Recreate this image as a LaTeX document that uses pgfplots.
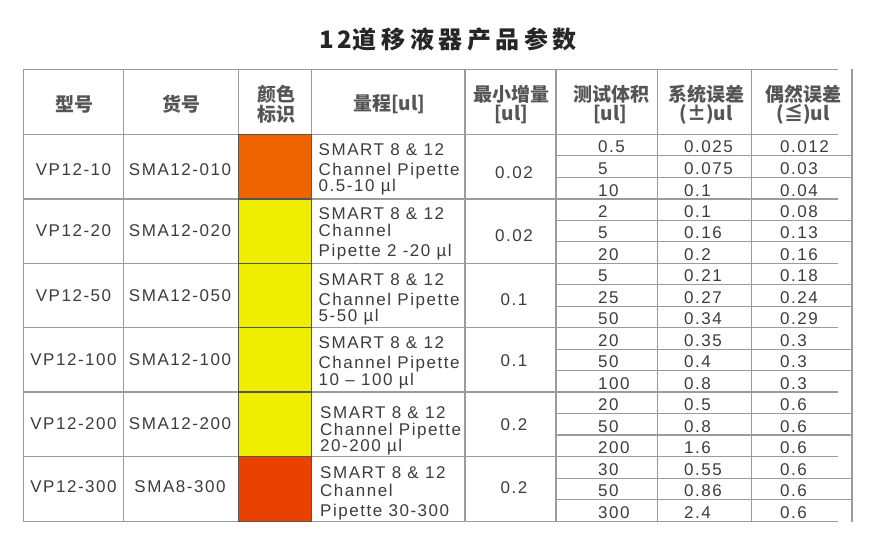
\documentclass[border=0pt]{standalone}
\usepackage{pgfplots}
\pgfplotsset{compat=1.18}
\usepackage{pgfplotstable}
\usepackage{fontspec}
\newfontfamily\bodyfont{Liberation Sans}[LetterSpace=9]
\newfontfamily\cjk{Noto Sans CJK SC}
\newfontfamily\titlecjk{Noto Sans CJK SC}[LetterSpace=19]

\definecolor{gridc}{RGB}{155,155,155}
\definecolor{cellb}{RGB}{85,85,85}
\definecolor{txt}{RGB}{60,60,60}
\definecolor{hdr}{RGB}{85,85,85}
\definecolor{corange}{RGB}{238,98,0}
\definecolor{cyellow}{RGB}{238,237,0}
\definecolor{cred}{RGB}{234,64,0}

% header cells
\pgfplotstableread{
x y label
74 104.5 型号
181 104.5 货号
276 94 颜色
276 114.5 标识
389 104.5 {量程[ul]}
511 94 最小增量
511 114.5 {[ul]}
611 94 测试体积
610 114.5 {[ul]}
706.5 94 系统误差
706 114.5 {(±)ul}
803.5 94 偶然误差
803 114.5 {(≦)ul}
}\headtab

% centred body cells (model, article no., min increment)
\pgfplotstableread{
x y label
73.5 175 VP12-10
180 175 SMA12-010
514 178 0.02
73.5 236.7 VP12-20
180 236.7 SMA12-020
514 241.7 0.02
73.5 301.7 VP12-50
180 301.7 SMA12-050
514 305 0.1
73.5 365 VP12-100
180 365 SMA12-100
514 366.7 0.1
73.5 429.3 VP12-200
180 429.3 SMA12-200
514 430 0.2
73.5 492.7 VP12-300
180 492.7 SMA8-300
514 493.3 0.2
}\centab

% volume range text, left aligned
\pgfplotstableread{
x y label
318.5 155 {SMART 8 \& 12}
318.5 175 {Channel Pipette}
318.5 191.7 {0.5-10 µl}
318.5 219.3 {SMART 8 \& 12}
318.5 236.7 {Channel}
318.5 256.7 {Pipette 2 -20 µl}
318.5 285 {SMART 8 \& 12}
318.5 305 {Channel Pipette}
318.5 321.7 {5-50 µl}
318.5 348.3 {SMART 8 \& 12}
318.5 368 {Channel Pipette}
318.5 385 {10 – 100 µl}
320 418.3 {SMART 8 \& 12}
320 435 {Channel Pipette}
320 451.7 {20-200 µl}
320 478.3 {SMART 8 \& 12}
320 496.7 {Channel}
320 516.7 {Pipette 30-300}
}\rangetab

% test volume, systematic error, random error
\pgfplotstableread{
y vol sys rnd
152.8 0.5 0.025 0.012
174.4 5 0.075 0.03
196.0 10 0.1 0.04
217.4 2 0.1 0.08
238.8 5 0.16 0.13
260.3 20 0.2 0.16
281.7 5 0.21 0.18
303.2 25 0.27 0.24
324.7 50 0.34 0.29
346.1 20 0.35 0.3
367.6 50 0.4 0.3
389.0 100 0.8 0.3
410.5 20 0.5 0.6
432.0 50 0.8 0.6
453.5 200 1.6 0.6
475.1 30 0.55 0.6
496.8 50 0.86 0.6
518.5 300 2.4 0.6
}\subtab

\begin{document}
\begin{tikzpicture}
\begin{axis}[
    scale only axis,
    width=880pt, height=542pt,
    xmin=0, xmax=880, ymin=0, ymax=542,
    y dir=reverse,
    hide axis,
    clip=false,
    unbounded coords=jump,
    txtplot/.style={draw=none, mark=none, nodes near coords,
        point meta=explicit symbolic},
]
% keep the page at the full size
\addplot[draw=none] coordinates {(0,0)(880,542)};

% grid lines
\addplot[gridc, line width=1.1pt] coordinates {
 (23.5,69.3)(838,69.3) (nan,nan)
 (23.5,134.3)(838,134.3) (nan,nan)
 (23.5,199)(838,199) (nan,nan)
 (23.5,263.3)(838,263.3) (nan,nan)
 (23.5,327.7)(838,327.7) (nan,nan)
 (23.5,392)(838,392) (nan,nan)
 (23.5,456.5)(838,456.5) (nan,nan)
 (23.5,521.7)(838,521.7) (nan,nan)
 (556,155.9)(852,155.9) (nan,nan)
 (556,177.5)(852,177.5) (nan,nan)
 (556,220.4)(852,220.4) (nan,nan)
 (556,241.9)(852,241.9) (nan,nan)
 (556,284.8)(852,284.8) (nan,nan)
 (556,306.2)(852,306.2) (nan,nan)
 (556,349.1)(852,349.1) (nan,nan)
 (556,370.6)(852,370.6) (nan,nan)
 (556,413.5)(852,413.5) (nan,nan)
 (556,435.0)(852,435.0) (nan,nan)
 (556,478.2)(852,478.2) (nan,nan)
 (556,499.9)(852,499.9) (nan,nan)
 (23.5,69.3)(23.5,521.7) (nan,nan)
 (123.5,69.3)(123.5,521.7) (nan,nan)
 (238.5,69.3)(238.5,521.7) (nan,nan)
 (311.7,69.3)(311.7,521.7) (nan,nan)
 (465,69.3)(465,521.7) (nan,nan)
 (556,69.3)(556,521.7) (nan,nan)
 (657.3,69.3)(657.3,521.7) (nan,nan)
 (751.7,69.3)(751.7,521.7) (nan,nan)
 (852,69.3)(852,521.7)
};

% colour swatches
\addplot[fill=corange, draw=cellb, line width=1.2pt] coordinates {(238.5,134.3)(311.7,134.3)(311.7,199)(238.5,199)(238.5,134.3)};
\addplot[fill=cyellow, draw=cellb, line width=1.2pt] coordinates {(238.5,199)(311.7,199)(311.7,263.3)(238.5,263.3)(238.5,199)};
\addplot[fill=cyellow, draw=cellb, line width=1.2pt] coordinates {(238.5,263.3)(311.7,263.3)(311.7,327.7)(238.5,327.7)(238.5,263.3)};
\addplot[fill=cyellow, draw=cellb, line width=1.2pt] coordinates {(238.5,327.7)(311.7,327.7)(311.7,392)(238.5,392)(238.5,327.7)};
\addplot[fill=cyellow, draw=cellb, line width=1.2pt] coordinates {(238.5,392)(311.7,392)(311.7,456.5)(238.5,456.5)(238.5,392)};
\addplot[fill=cred, draw=cellb, line width=1.2pt] coordinates {(238.5,456.5)(311.7,456.5)(311.7,521.7)(238.5,521.7)(238.5,456.5)};

% header text
\addplot[txtplot, every node near coord/.append style={anchor=center, inner sep=0pt,
    text=hdr, font=\cjk\bfseries\fontsize{19}{22}\selectfont}]
    table[x=x, y=y, meta=label] {\headtab};

% body text
\addplot[txtplot, every node near coord/.append style={anchor=base, inner sep=0pt,
    text=txt, font=\bodyfont\fontsize{17}{20}\selectfont}]
    table[x=x, y=y, meta=label] {\centab};
\addplot[txtplot, every node near coord/.append style={anchor=base west, inner sep=0pt,
    text=txt, font=\bodyfont\fontsize{17}{20}\selectfont}]
    table[x=x, y=y, meta=label] {\rangetab};
\addplot[txtplot, every node near coord/.append style={anchor=base west, inner sep=0pt,
    text=txt, font=\bodyfont\fontsize{17}{20}\selectfont}]
    table[x expr=598, y=y, meta=vol] {\subtab};
\addplot[txtplot, every node near coord/.append style={anchor=base west, inner sep=0pt,
    text=txt, font=\bodyfont\fontsize{17}{20}\selectfont}]
    table[x expr=684, y=y, meta=sys] {\subtab};
\addplot[txtplot, every node near coord/.append style={anchor=base west, inner sep=0pt,
    text=txt, font=\bodyfont\fontsize{17}{20}\selectfont}]
    table[x expr=780, y=y, meta=rnd] {\subtab};

% title
\addplot[txtplot, every node near coord/.append style={anchor=base west, inner sep=0pt,
    text=black!85}]
    coordinates {(319,48.5)[{\cjk\bfseries\fontsize{24}{28}\selectfont 1\kern3.5pt 2\kern1pt}{\titlecjk\bfseries\fontsize{24}{28}\selectfont 道移液器产品参数}]};
\end{axis}
\end{tikzpicture}
\end{document}
